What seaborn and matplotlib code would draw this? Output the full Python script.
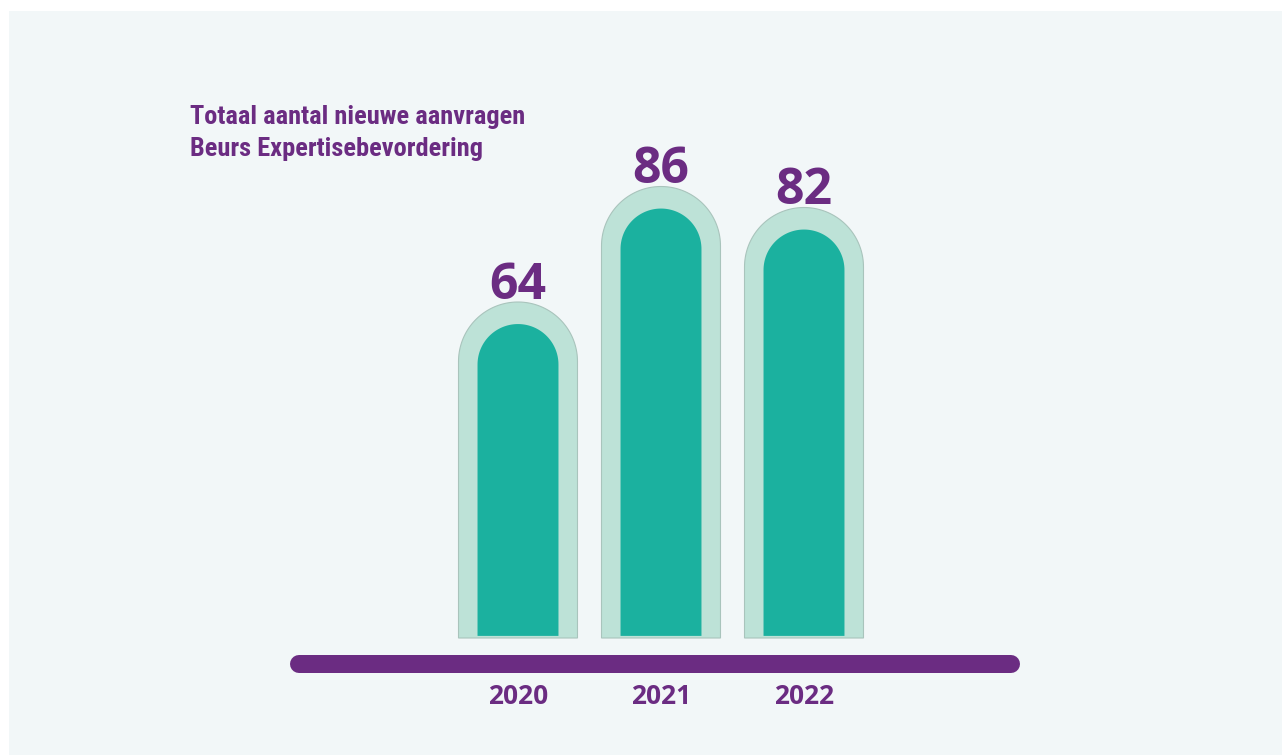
import numpy as np
import pandas as pd
import matplotlib
matplotlib.use("Agg")
import matplotlib.pyplot as plt
from matplotlib.path import Path
from matplotlib.patches import PathPatch, Rectangle
import seaborn as sns

# ---- data ----
years = ["2020", "2021", "2022"]
values = [64, 86, 82]
title_lines = ["Totaal aantal nieuwe aanvragen", "Beurs Expertisebevordering"]

PURPLE = "#6b2c82"
TEAL = "#1bb19f"
MINT = "#bde2d7"
PANEL = "#f2f7f8"

sns.set_theme(style="white")
plt.rcParams["font.family"] = ["Open Sans", "DejaVu Sans"]

W, H = 1282, 755
fig = plt.figure(figsize=(W / 100, H / 100), dpi=100, facecolor="white")
ax = fig.add_axes([0, 0, 1, 1])
ax.set_facecolor("none")
panel = Rectangle((9 / W, 0), 1 - 9 / W, 1 - 11 / H, transform=ax.transAxes,
                  facecolor=PANEL, edgecolor="none", zorder=0)
ax.add_patch(panel)

# pixel mapping: category i centre at 518 + 143*i ; value 0 at y=638 px from top, 5.25 px/unit
sx, sy = 143.0, 5.25
x0, y0 = 518.0, 638.0

df = pd.DataFrame({"year": years, "value": values})
df["inner"] = df["value"] - 4.2

sns.barplot(data=df, x="year", y="value", width=0.832, color=MINT, ax=ax,
            saturation=1, zorder=2)
sns.barplot(data=df, x="year", y="inner", width=0.566, color=TEAL, ax=ax,
            saturation=1, zorder=3)

ax.set_xlim((0 - x0) / sx, (W - x0) / sx)
ax.set_ylim((y0 - H) / sy, (y0 - 0) / sy)


def round_top(patch, bottom_offset, edge, lw, z):
    x, y = patch.get_x(), patch.get_y()
    w, h = patch.get_width(), patch.get_height()
    r = w / 2
    ry = r * sx / sy
    top = y + h
    cx = x + r
    yb = y + bottom_offset
    th = np.linspace(0, np.pi, 80)
    pts = [(x + w, yb), (x + w, top - ry)]
    pts += [(cx + r * np.cos(t), top - ry + ry * np.sin(t)) for t in th]
    pts += [(x, yb)]
    codes = [Path.MOVETO] + [Path.LINETO] * (len(pts) - 1)
    pts.append(pts[0])
    codes.append(Path.CLOSEPOLY)
    pp = PathPatch(Path(pts, codes), facecolor=patch.get_facecolor(),
                   edgecolor=edge, lw=lw, zorder=z)
    patch.remove()
    ax.add_patch(pp)


bars = [p for p in ax.patches if p is not panel and isinstance(p, Rectangle)]
bars.sort(key=lambda p: -p.get_width())
outer = bars[:len(values)]
inner = bars[len(values):]
for p in outer:
    round_top(p, 0, "#a9c4bc", 0.8, 2)
for p in inner:
    round_top(p, 0.4, "none", 0, 3)

# baseline
bl_y = (y0 - 664) / sy
ax.plot([(299 - x0) / sx, (1011 - x0) / sx], [bl_y, bl_y], color=PURPLE,
        lw=18 * 72 / 100, solid_capstyle="round", zorder=4)

# value labels
for i, v in enumerate(values):
    ax.text(i, v + 3 / sy, f"{v}", ha="center", va="baseline", fontsize=36,
            fontweight="bold", color=PURPLE, zorder=5)

# year labels
for i, yr in enumerate(years):
    ax.text(i, (y0 - 697) / sy, yr, ha="center", va="center", fontsize=19,
            fontweight="bold", color=PURPLE, zorder=5)

# title
for k, line in enumerate(title_lines):
    ax.text((190 - x0) / sx, (y0 - (117 + 32 * k)) / sy, line, ha="left", va="center",
            fontsize=19, fontweight="bold", color=PURPLE,
            family=["Roboto Condensed", "Lato", "DejaVu Sans"])

ax.set_axis_off()
fig.savefig("out.png", dpi=100, facecolor="white")
